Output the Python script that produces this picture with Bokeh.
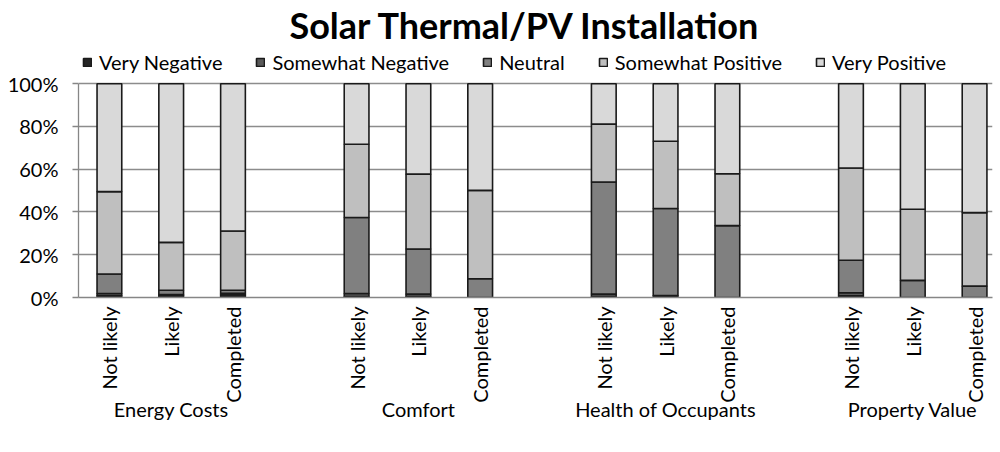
import math
from bokeh.plotting import figure
from bokeh.models import (ColumnDataSource, Range1d, FixedTicker, LinearAxis,
                          NumeralTickFormatter, Legend, LegendItem)
from bokeh.embed import file_html
from bokeh.resources import INLINE

# ---- data ----
groups = ["Energy Costs", "Comfort", "Health of Occupants", "Property Value"]
stages = ["Not likely", "Likely", "Completed"]
series = ["Very Negative", "Somewhat Negative", "Neutral", "Somewhat Positive", "Very Positive"]

very_negative     = [0.008, 0.011, 0.013,  0.005, 0.005, 0.0,  0.005, 0.009, 0.0,  0.008, 0.0,  0.0]
somewhat_negative = [0.011, 0.003, 0.007,  0.014, 0.011, 0.0,  0.011, 0.0,   0.0,  0.014, 0.0,  0.0]
neutral           = [0.091, 0.020, 0.014,  0.355, 0.211, 0.088, 0.524, 0.407, 0.336, 0.152, 0.080, 0.053]
somewhat_positive = [0.385, 0.224, 0.277,  0.343, 0.350, 0.413, 0.271, 0.315, 0.243, 0.432, 0.333, 0.344]
very_positive     = [0.505, 0.742, 0.689,  0.283, 0.423, 0.499, 0.189, 0.269, 0.421, 0.394, 0.587, 0.603]

colors = ["#262626", "#595959", "#808080", "#bfbfbf", "#d9d9d9"]

FONT = "Lato"
FS = "20px"

# slot positions: 3 bars per group with one empty slot between groups
xpos = []
labels = []
for gi in range(len(groups)):
    for si, s in enumerate(stages):
        xpos.append(gi * 4 + si)
        labels.append(s)
group_centers = [gi * 4 + 1 for gi in range(len(groups))]

keys = ["vn", "sn", "neu", "sp", "vp"]
source = ColumnDataSource(dict(x=xpos, vn=very_negative, sn=somewhat_negative,
                               neu=neutral, sp=somewhat_positive, vp=very_positive))

# frame extends above 100% to hold the legend (the value axis is bounded to 0..100%)
p = figure(width=998, height=436, output_backend="svg", toolbar_location=None,
           x_range=Range1d(-0.5, 14.29), y_range=Range1d(0, 1.174),
           min_border_left=78, min_border_right=6, min_border_top=42, min_border_bottom=139,
           x_axis_type=None)
p.outline_line_color = None
p.background_fill_color = "white"
p.border_fill_color = "white"

rends = p.vbar_stack(keys, x="x", width=0.4, source=source, color=colors,
                     line_color="#1a1a1a", line_width=1.6)

# y axis
p.yaxis.ticker = FixedTicker(ticks=[0, 0.2, 0.4, 0.6, 0.8, 1.0])
p.yaxis.bounds = (0, 1)
p.yaxis.formatter = NumeralTickFormatter(format="0%")
p.yaxis.axis_line_color = "#868686"
p.yaxis.axis_line_width = 1.3
p.yaxis.major_tick_line_color = "#868686"
p.yaxis.major_tick_line_width = 1.3
p.yaxis.major_tick_out = 6
p.yaxis.major_tick_in = 0
p.yaxis.minor_tick_line_color = None
p.yaxis.major_label_text_font = FONT
p.yaxis.major_label_text_font_size = FS
p.yaxis.major_label_text_color = "black"
p.yaxis.major_label_standoff = 14

p.ygrid.ticker = FixedTicker(ticks=[0.2, 0.4, 0.6, 0.8, 1.0])
p.ygrid.grid_line_color = "#8c8c8c"
p.ygrid.grid_line_width = 1.5
p.xgrid.grid_line_color = None

# x axis: stage labels
xa = LinearAxis(ticker=FixedTicker(ticks=xpos),
                major_label_overrides={x: l for x, l in zip(xpos, labels)})
xa.axis_line_color = "#868686"
xa.axis_line_width = 1.5
xa.major_tick_line_color = None
xa.minor_tick_line_color = None
xa.major_label_orientation = math.pi / 2
xa.major_label_text_font = FONT
xa.major_label_text_font_size = FS
xa.major_label_text_color = "black"
xa.major_label_standoff = 3
p.add_layout(xa, "below")

# x axis: group labels
ga = LinearAxis(ticker=FixedTicker(ticks=group_centers),
                major_label_overrides={x: g for x, g in zip(group_centers, groups)})
ga.axis_line_color = None
ga.major_tick_line_color = None
ga.minor_tick_line_color = None
ga.major_label_text_font = FONT
ga.major_label_text_font_size = FS
ga.major_label_text_color = "black"
ga.major_label_standoff = -15
p.add_layout(ga, "below")

legend = Legend(items=[LegendItem(label=s, renderers=[r]) for s, r in zip(series, rends)],
                orientation="horizontal", location=(4, 223),
                label_text_font=FONT, label_text_font_size=FS, label_text_color="black",
                glyph_width=10, glyph_height=10, spacing=33, padding=0, margin=0,
                label_standoff=7, border_line_color=None, background_fill_alpha=0)
p.add_layout(legend, "center")

p.title.text = "Solar Thermal/PV Installation"
p.title.align = "left"
p.title.offset = 211
p.title.standoff = 0
p.title.text_font = FONT
p.title.text_font_size = "36px"
p.title.text_font_style = "bold"
p.title.text_color = "black"

open("out.html", "w").write(file_html(p, INLINE))
